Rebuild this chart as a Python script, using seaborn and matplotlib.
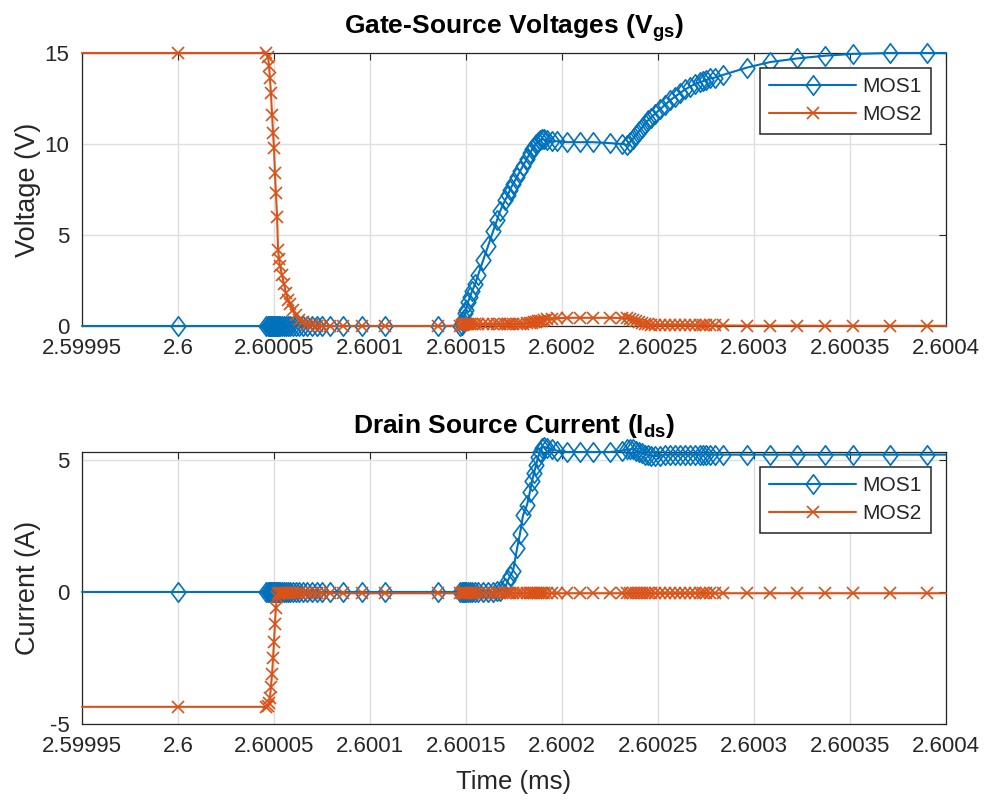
import matplotlib
matplotlib.use("Agg")
import matplotlib.pyplot as plt
from matplotlib.path import Path
import seaborn as sns

# switching transient (time in ms)
time_ms = [
    2.5999500, 2.6000000, 2.6000458, 2.6000469, 2.6000474, 2.6000479, 2.6000484, 2.6000490,
    2.6000495, 2.6000500, 2.6000505, 2.6000510, 2.6000516, 2.6000521, 2.6000526, 2.6000531,
    2.6000542, 2.6000552, 2.6000563, 2.6000573, 2.6000583, 2.6000599, 2.6000615, 2.6000630,
    2.6000651, 2.6000672, 2.6000698, 2.6000724, 2.6000750, 2.6000792, 2.6000859, 2.6000958,
    2.6001078, 2.6001354, 2.6001469, 2.6001479, 2.6001484, 2.6001490, 2.6001495, 2.6001500,
    2.6001510, 2.6001521, 2.6001531, 2.6001547, 2.6001563, 2.6001589, 2.6001615, 2.6001641,
    2.6001661, 2.6001677, 2.6001703, 2.6001719, 2.6001729, 2.6001745, 2.6001766, 2.6001781,
    2.6001797, 2.6001818, 2.6001833, 2.6001844, 2.6001854, 2.6001865, 2.6001875, 2.6001885,
    2.6001896, 2.6001906, 2.6001922, 2.6001948, 2.6001974, 2.6002026, 2.6002094, 2.6002161,
    2.6002250, 2.6002313, 2.6002339, 2.6002354, 2.6002370, 2.6002385, 2.6002401, 2.6002417,
    2.6002432, 2.6002448, 2.6002464, 2.6002484, 2.6002510, 2.6002536, 2.6002563, 2.6002589,
    2.6002615, 2.6002641, 2.6002667, 2.6002693, 2.6002719, 2.6002734, 2.6002750, 2.6002771,
    2.6002797, 2.6002839, 2.6002964, 2.6003083, 2.6003224, 2.6003370, 2.6003516, 2.6003708,
    2.6003901, 2.6004000,
]
vgs_mos1 = [
    0, 0, 0, 0, 0, 0, 0, 0,
    0, 0, 0, 0, 0, 0, 0, 0,
    0, 0, 0, 0, 0, 0, 0, 0,
    0, 0, 0, 0, 0, 0, 0, 0,
    0, 0, 0, 0.05, 0.2, 0.4, 0.7, 0.9,
    1.3, 1.6, 1.9, 2.3, 2.8, 3.6, 4.4, 5.2,
    5.8, 6.3, 6.9, 7.2, 7.5, 7.8, 8.2, 8.5,
    8.8, 9.2, 9.5, 9.7, 9.85, 10.0, 10.1, 10.2,
    10.25, 10.25, 10.2, 10.15, 10.15, 10.1, 10.1, 10.1,
    10.05, 10.0, 9.95, 10.1, 10.3, 10.5, 10.7, 10.9,
    11.1, 11.3, 11.45, 11.65, 11.9, 12.15, 12.4, 12.6,
    12.8, 13.0, 13.15, 13.3, 13.4, 13.45, 13.5, 13.6,
    13.65, 13.8, 14.2, 14.5, 14.7, 14.85, 14.95, 15.0,
    15.0, 15.0,
]
vgs_mos2 = [
    15, 15, 15, 14.8, 14.3, 13.6, 12.8, 11.6,
    10.6, 9.8, 8.4, 7.3, 6.0, 4.2, 3.7, 3.3,
    2.8, 2.3, 1.8, 1.45, 1.2, 0.9, 0.6, 0.35,
    0.2, 0.1, 0.05, 0.02, 0, 0, 0, 0,
    0, 0, 0.02, 0.05, 0.08, 0.1, 0.1, 0.1,
    0.1, 0.1, 0.1, 0.1, 0.1, 0.1, 0.1, 0.1,
    0.1, 0.1, 0.1, 0.1, 0.1, 0.1, 0.12, 0.12,
    0.13, 0.14, 0.16, 0.18, 0.2, 0.22, 0.25, 0.28,
    0.3, 0.33, 0.36, 0.4, 0.43, 0.45, 0.45, 0.45,
    0.45, 0.44, 0.42, 0.38, 0.33, 0.28, 0.22, 0.17,
    0.13, 0.1, 0.08, 0.07, 0.06, 0.05, 0.05, 0.05,
    0.05, 0.05, 0.04, 0.04, 0.04, 0.04, 0.04, 0.03,
    0.03, 0.03, 0.02, 0.02, 0.02, 0.01, 0.01, 0.01,
    0.01, 0.01,
]
ids_mos1 = [
    0, 0, 0, 0, 0, 0, 0, 0,
    0, 0, 0, 0, 0, 0, 0, 0,
    0, 0, 0, 0, 0, 0, 0, 0,
    0, 0, 0, 0, 0, 0, 0, 0,
    0, 0, 0, 0, 0, 0, 0, 0,
    0, 0, 0, 0, 0, 0, 0, 0,
    0.02, 0.05, 0.15, 0.45, 0.6, 0.8, 1.65, 2.2,
    2.9, 3.3, 3.8, 4.2, 4.5, 4.8, 5.1, 5.3,
    5.45, 5.5, 5.45, 5.4, 5.35, 5.3, 5.3, 5.3,
    5.3, 5.35, 5.4, 5.4, 5.4, 5.35, 5.3, 5.25,
    5.2, 5.2, 5.15, 5.15, 5.15, 5.2, 5.2, 5.2,
    5.2, 5.2, 5.2, 5.2, 5.2, 5.2, 5.2, 5.2,
    5.2, 5.2, 5.2, 5.2, 5.2, 5.2, 5.2, 5.2,
    5.2, 5.2,
]
ids_mos2 = [
    -4.35, -4.35, -4.35, -4.33, -4.2, -4.0, -3.6, -3.1,
    -2.5, -1.9, -1.2, -0.6, -0.2, -0.08, -0.05, -0.05,
] + [-0.05] * 90

x_ticks = [2.59995, 2.6, 2.60005, 2.6001, 2.60015, 2.6002, 2.60025, 2.6003, 2.60035, 2.6004]
x_tick_labels = ["2.59995", "2.6", "2.60005", "2.6001", "2.60015", "2.6002",
                 "2.60025", "2.6003", "2.60035", "2.6004"]
vgs_ticks = [0, 5, 10, 15]
ids_ticks = [-5, 0, 5]
series_names = ["MOS1", "MOS2"]

BLUE, ORANGE = "#0072BD", "#D95319"
FONT = "Liberation Sans"

sns.set_theme(style="white")
plt.rcParams["font.family"] = [FONT, "DejaVu Sans"]
plt.rcParams["axes.unicode_minus"] = False
plt.rcParams["mathtext.fontset"] = "custom"
plt.rcParams["mathtext.rm"] = FONT
plt.rcParams["mathtext.bf"] = f"{FONT}:bold"

# MATLAB-ish diamond (a bit taller than wide)
DIAMOND = Path([(0, 1), (0.75, 0), (0, -1), (-0.75, 0), (0, 1)],
               [Path.MOVETO, Path.LINETO, Path.LINETO, Path.LINETO, Path.CLOSEPOLY])


def draw_panel(ax, y1, y2, yticks, ylim, ylabel, title):
    styles = [(y1, BLUE, DIAMOND, 14), (y2, ORANGE, "x", 8.5)]
    for (yv, col, mk, ms), name in zip(styles, series_names):
        sns.lineplot(x=time_ms, y=yv, ax=ax, estimator=None, sort=False, color=col,
                     linewidth=1.5, marker=mk, markersize=ms, markerfacecolor="none",
                     markeredgecolor=col, markeredgewidth=1.2, markevery=slice(1, -1),
                     clip_on=False, zorder=3, label=name)
    ax.set_xlim(x_ticks[0], x_ticks[-1])
    ax.set_ylim(*ylim)
    ax.set_xticks(x_ticks)
    ax.set_xticklabels(x_tick_labels)
    ax.set_yticks(yticks)
    ax.tick_params(direction="in", length=5, width=0.8, top=True, right=True,
                   labelsize=16, colors="#262626")
    ax.tick_params(axis="x", pad=9)
    ax.tick_params(axis="y", pad=9)
    ax.grid(True, color="#dedede", linewidth=1.0)
    for sp in ax.spines.values():
        sp.set_color("#262626")
        sp.set_linewidth(0.9)
        sp.set_zorder(2.5)
    ax.set_ylabel(ylabel, fontsize=19.5, color="#262626")
    ax.yaxis.set_label_coords(-0.048, 0.5)
    ax.set_title(title, fontsize=19, fontweight="bold", color="#000000", pad=14)
    leg = ax.legend(loc="upper right", fontsize=15, frameon=True, fancybox=False,
                    framealpha=1, edgecolor="#262626", handlelength=4.2,
                    handletextpad=0.3, borderpad=0.45, labelspacing=0.45,
                    borderaxespad=0.7)
    leg.get_frame().set_linewidth(1.1)
    leg.set_zorder(5)


fig = plt.figure(figsize=(9.9, 8.02), dpi=100)
ax_top = fig.add_axes([82 / 990, 1 - 326 / 802, 864 / 990, 273 / 802])
ax_bot = fig.add_axes([82 / 990, 1 - 724 / 802, 864 / 990, 272 / 802])

draw_panel(ax_top, vgs_mos1, vgs_mos2, vgs_ticks, (0, 15), "Voltage (V)",
           r"Gate-Source Voltages (V$_{\mathbf{gs}}$)")
draw_panel(ax_bot, ids_mos1, ids_mos2, ids_ticks, (-5, 5.3), "Current (A)",
           r"Drain Source Current (I$_{\mathbf{ds}}$)")
ax_bot.set_xlabel("Time (ms)", fontsize=18.5, color="#262626")
ax_bot.xaxis.set_label_coords(0.5, -0.17)

fig.savefig("out.png", dpi=100)
